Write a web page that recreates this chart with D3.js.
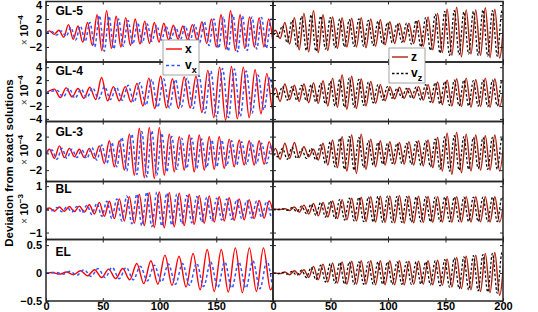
<!DOCTYPE html>
<html><head><meta charset="utf-8">
<script src="https://cdn.jsdelivr.net/npm/d3@7"></script>
<style>body{margin:0;background:#fff}svg{display:block}</style>
</head><body><svg id="c" width="538" height="312"></svg>
<script>
// ---------------- data (extrema, ×10^-n units) ----------------
const methods = ["GL-5", "GL-4", "GL-3", "BL", "EL"];
const timeTicks = [0, 50, 100, 150, 200];
const yTickValues = [[-2, 0, 2, 4], [-4, -2, 0, 2, 4], [-2, 0, 2], [-1, 0, 1], [-0.5, 0, 0.5]];
const yLimits = [[-4.15, 4.5], [-4.4, 4.8], [-3.35, 3.8], [-1.3, 1.2], [-0.5, 0.6]];
const exponents = ["-4", "-4", "-4", "-3", ""];

// time of first extremum and half period (time between extrema)
const leftHalfPeriod = [4.2, 5.2, 4.4, 4.4, 6.2];
const xFirstTime = [3, 7.4, 3, 3, 5.6];
const vxFirstTime = [5.1, 10, 5.2, 5.2, 8.7];
const rightHalfPeriod = 4.15;
const zFirstTime = 2;
const vzFirstTime = 4.1;

const gl5X = [0.3,-0.2,0.4,-0.6,1.2,-0.9,1.0,-1.3,1.5,-1.8, 2.6,-2.5,3.2,-2.2,2.4,-2.0,2.2,-1.8,2.0,-1.6, 1.7,-1.5,1.5,-1.3,1.4,-1.0,1.1,-0.9,1.0,-1.0, 1.2,-1.1,1.6,-1.5,2.0,-2.0,2.6,-2.3,3.2,-2.5, 2.6,-2.2,2.3,-2.0,2.2,-2.0,2.0,-1.9];
const gl5Vx = [0.2,-0.3,0.3,-0.5,0.8,-1.0,1.0,-1.2,1.5,-2.0, 2.5,-2.6,2.4,-2.3,2.0,-1.9,1.8,-1.6,1.5,-1.4, 1.3,-1.2,1.1,-1.0,0.9,-0.8,0.8,-0.9,1.0,-1.1, 1.2,-1.4,1.6,-1.8,2.0,-2.2,2.3,-2.6,2.6,-2.7, 2.4,-2.5,2.3,-2.3,2.2,-2.2,2.0,-2.0];
const gl4X = [0.6,-0.7,0.8,-0.6,0.7,-0.8,0.9,-1.0,2.4,-1.2, 1.0,-1.2,1.0,-1.4,1.5,-2.0,2.3,-2.4,2.6,-2.3, 2.2,-2.4,2.5,-2.3,2.6,-3.0,3.5,-3.8,4.0,-4.2, 4.1,-4.0,4.0,-3.8,3.6,-3.2,3.0,-2.6,2.4];
const gl4Vx = [0.4,-0.6,0.7,-0.8,0.6,-0.7,0.8,-0.9,1.0,-1.0, 0.9,-1.1,1.2,-1.4,1.6,-1.9,2.1,-2.2,2.2,-2.3, 2.1,-2.2,2.3,-2.4,2.7,-3.1,3.4,-3.7,3.8,-3.8, 3.7,-3.6,3.4,-3.1,2.8,-2.6,2.4,-2.2,2.0];
const gl3X = [0.5,-0.6,0.9,-0.5,0.6,-0.4,0.5,-0.5,0.6,-0.6, 0.9,-1.2,1.5,-1.6,1.5,-2.0,2.3,-2.6,3.0,-2.9, 3.1,-3.0,3.1,-2.6,2.3,-2.2,2.0,-2.0,2.2,-2.2, 2.2,-2.0,2.0,-1.9,2.0,-1.8,1.7,-1.6,1.6,-1.4, 1.5,-1.4,1.5,-1.3,1.4,-1.2];
const gl3Vx = [0.4,-0.7,0.6,-0.6,0.5,-0.5,0.4,-0.6,0.7,-0.8, 1.0,-1.2,1.3,-1.6,1.9,-2.1,2.3,-2.5,2.6,-2.8, 2.7,-2.6,2.4,-2.2,2.0,-1.9,1.8,-1.8,1.8,-1.8, 1.7,-1.7,1.6,-1.6,1.6,-1.5,1.5,-1.4,1.4,-1.3, 1.3,-1.2,1.2,-1.2,1.1,-1.0];
const blX = [0.06,-0.08,0.1,-0.08,0.12,-0.1,0.14,-0.12,0.2,-0.2, 0.3,-0.3,0.35,-0.4,0.45,-0.5,0.55,-0.6,0.65,-0.7, 0.72,-0.78,0.75,-0.8,0.72,-0.75,0.7,-0.7,0.65,-0.65, 0.6,-0.6,0.58,-0.55,0.55,-0.5,0.5,-0.48,0.45,-0.45, 0.42,-0.4,0.38,-0.38,0.36,-0.35];
const blVx = [-0.06,0.08,-0.1,0.1,-0.12,0.12,-0.15,0.18,-0.22,0.26, -0.3,0.35,-0.4,0.45,-0.5,0.58,-0.62,0.66,-0.7,0.74, -0.75,0.74,-0.72,0.7,-0.68,0.65,-0.62,0.6,-0.58,0.55, -0.55,0.52,-0.5,0.48,-0.46,0.45,-0.43,0.42,-0.4,0.38, -0.37,0.36,-0.35,0.34,-0.33,0.32];
const elX = [0.01,-0.02,0.02,-0.03,0.04,-0.05,0.06,-0.08,0.07,-0.1, 0.08,-0.12,0.17,-0.19,0.22,-0.2,0.32,-0.22,0.3,-0.25, 0.35,-0.3,0.42,-0.33,0.42,-0.34,0.45,-0.35,0.45,-0.33, 0.45,-0.3,0.3];
const elVx = [0.01,-0.02,0.03,-0.04,0.06,-0.06,0.08,-0.08,0.1,-0.1, 0.1,-0.12,0.12,-0.14,0.14,-0.16,0.16,-0.2,0.17,-0.22, 0.18,-0.24,0.2,-0.26,0.2,-0.27,0.2,-0.27,0.22,-0.28, 0.22,-0.28,0.22];

const gl5Z = [0.4,-0.8,1.5,-1.6,2.2,-2.4,2.8,-2.7,3.2,-2.8, 2.6,-2.5,2.3,-2.2,2.2,-2.0,2.1,-2.0,2.2,-2.1, 2.0,-1.9,1.9,-1.7,1.6,-1.5,1.4,-1.3,1.4,-1.5, 1.8,-1.9,2.3,-2.4,2.8,-2.8,3.4,-3.2,3.7,-3.4, 3.3,-3.0,3.3,-3.2,3.6,-3.5,3.4,-3.6,3.2];
const gl5Vz = [-0.5,1.0,-1.4,1.8,-2.0,2.4,-2.5,2.6,-2.6,2.4, -2.3,2.2,-2.1,2.0,-2.0,1.9,-1.9,2.0,-1.9,1.8, -1.8,1.7,-1.6,1.5,-1.4,1.3,-1.3,1.4,-1.6,1.8, -2.0,2.2,-2.5,2.7,-2.9,3.1,-3.2,3.2,-3.1,3.0, -3.0,3.1,-3.2,3.3,-3.3,3.2,-3.3,3.2,-3.0];
const gl4Z = [0.8,-1.3,1.4,-1.0,1.2,-1.3,1.4,-1.5,1.6,-1.6, 1.9,-2.0,2.3,-2.2,2.8,-2.5,2.6,-2.4,2.2,-2.0, 1.8,-1.6,1.3,-1.2,1.0,-0.9,0.9,-0.8,0.7,-0.8, 1.0,-1.1,1.3,-1.5,1.7,-1.8,2.0,-2.0,2.2,-2.1, 2.3,-2.2,2.1,-2.1,2.3,-2.2,2.2,-2.1,2.0];
const gl4Vz = [-0.6,1.0,-1.1,1.0,-1.1,1.2,-1.2,1.3,-1.4,1.5, -1.7,1.8,-2.0,2.1,-2.2,2.3,-2.2,2.1,-1.9,1.7, -1.5,1.3,-1.1,1.0,-0.8,0.7,-0.7,0.7,-0.8,0.9, -1.1,1.3,-1.4,1.6,-1.7,1.8,-1.9,2.0,-2.0,2.0, -2.0,1.9,-2.0,2.0,-2.1,2.0,-2.0,2.0,-2.0];
const gl3Z = [0.6,-0.7,1.2,-0.6,1.3,-0.5,0.8,-0.4,0.5,-0.8, 1.2,-1.4,1.6,-1.7,2.0,-2.1,2.2,-2.4,2.3,-1.9, 1.7,-1.6,1.5,-1.4,1.4,-1.3,1.3,-1.3,1.4,-1.4, 1.5,-1.5,1.6,-1.7,1.9,-2.1,2.4,-2.5,2.5,-2.3, 2.3,-2.1,2.2,-2.0,2.1,-2.0,2.2,-2.1,2.0];
const gl3Vz = [-0.4,0.6,-0.7,0.7,-0.6,0.5,-0.6,0.6,-0.8,1.0, -1.2,1.4,-1.6,1.8,-1.9,2.0,-2.0,1.9,-1.7,1.5, -1.4,1.3,-1.3,1.2,-1.2,1.2,-1.2,1.2,-1.3,1.4, -1.4,1.5,-1.6,1.7,-1.9,2.0,-2.1,2.1,-2.0,2.0, -1.9,1.9,-1.8,1.9,-1.9,1.9,-1.9,1.9,-1.9];
const blZ = [0.01,-0.01,0.03,-0.05,0.1,-0.12,0.18,-0.2,0.25,-0.28, 0.3,-0.33,0.36,-0.4,0.42,-0.45,0.48,-0.5,0.52,-0.53, 0.55,-0.55,0.57,-0.57,0.58,-0.58,0.6,-0.6,0.58,-0.58, 0.57,-0.57,0.56,-0.56,0.55,-0.55,0.56,-0.56,0.55,-0.55, 0.55,-0.55,0.54,-0.54,0.55,-0.55,0.54,-0.55,0.55];
const blVz = [-0.01,0.02,-0.04,0.07,-0.1,0.14,-0.18,0.22,-0.26,0.3, -0.33,0.36,-0.4,0.43,-0.46,0.48,-0.5,0.52,-0.53,0.54, -0.55,0.56,-0.56,0.57,-0.57,0.56,-0.56,0.55,-0.55,0.54, -0.54,0.54,-0.54,0.53,-0.53,0.53,-0.53,0.53,-0.53,0.53, -0.53,0.53,-0.53,0.53,-0.53,0.53,-0.53,0.53,-0.53];
const elZ = [0.0,-0.01,0.02,-0.03,0.04,-0.03,0.06,-0.08,0.12,-0.12, 0.16,-0.16,0.18,-0.18,0.2,-0.2,0.21,-0.2,0.22,-0.2, 0.22,-0.21,0.22,-0.21,0.22,-0.21,0.22,-0.21,0.21,-0.2, 0.21,-0.2,0.22,-0.21,0.23,-0.22,0.25,-0.25,0.28,-0.28, 0.3,-0.3,0.32,-0.33,0.35,-0.35,0.37,-0.4,0.38];
const elVz = [-0.01,0.01,-0.02,0.03,-0.04,0.05,-0.08,0.1,-0.12,0.14, -0.16,0.17,-0.18,0.19,-0.2,0.2,-0.2,0.2,-0.2,0.2, -0.2,0.2,-0.2,0.2,-0.2,0.2,-0.2,0.2,-0.2,0.2, -0.2,0.2,-0.21,0.22,-0.23,0.24,-0.25,0.27,-0.28,0.29, -0.3,0.31,-0.32,0.33,-0.34,0.35,-0.36,0.37,-0.37];

const xSeries = [gl5X, gl4X, gl3X, blX, elX];
const vxSeries = [gl5Vx, gl4Vx, gl3Vx, blVx, elVx];
const zSeries = [gl5Z, gl4Z, gl3Z, blZ, elZ];
const vzSeries = [gl5Vz, gl4Vz, gl3Vz, blVz, elVz];

// ---------------- layout ----------------
const FONT = '"Liberation Sans", Arial, Helvetica, sans-serif';
const svg = d3.select("#c");
const rowTop = [1.5, 62, 121.5, 181.5, 239.5];
const rowBot = [62, 121.5, 181.5, 239.5, 301];
const labelDy = [13.5, 13, 14.5, 11.5, 16.5];
const xLeft = d3.scaleLinear().domain([0, 200]).range([46, 273]);
const xRight = d3.scaleLinear().domain([0, 200]).range([273, 503]);
const AX = "#262626";

function toPoints(vals, t0, h) {
  return [[0, 0]].concat(vals.map((v, k) => [t0 + k * h, v]));
}

const fmt = d3.format("");

methods.forEach((name, i) => {
  const y = d3.scaleLinear().domain(yLimits[i]).range([rowBot[i], rowTop[i]]);
  [["L", xLeft], ["R", xRight]].forEach(([side, xs]) => {
    const x0 = xs.range()[0], x1 = xs.range()[1];
    const id = "clip" + side + i;
    svg.append("clipPath").attr("id", id).append("rect")
      .attr("x", x0).attr("y", rowTop[i]).attr("width", x1 - x0).attr("height", rowBot[i] - rowTop[i]);
    const line = d3.line().x(d => xs(d[0])).y(d => y(d[1])).curve(d3.curveMonotoneX);
    const g = svg.append("g").attr("clip-path", `url(#${id})`);
    if (side === "L") {
      g.append("path").attr("d", line(toPoints(xSeries[i], xFirstTime[i], leftHalfPeriod[i])))
        .attr("fill", "none").attr("stroke", "#ff0000").attr("stroke-width", 1.4);
      g.append("path").attr("d", line(toPoints(vxSeries[i], vxFirstTime[i], leftHalfPeriod[i])))
        .attr("fill", "none").attr("stroke", "#3355ff").attr("stroke-width", 1.5).attr("stroke-dasharray", "3,2.5");
    } else {
      g.append("path").attr("d", line(toPoints(zSeries[i], zFirstTime, rightHalfPeriod)))
        .attr("fill", "none").attr("stroke", "#b02010").attr("stroke-width", 1.4);
      g.append("path").attr("d", line(toPoints(vzSeries[i], vzFirstTime, rightHalfPeriod)))
        .attr("fill", "none").attr("stroke", "#111").attr("stroke-width", 1.3).attr("stroke-dasharray", "2.5,2");
    }
    // axes (inward ticks)
    const style = sel => {
      sel.select(".domain").remove();
      sel.selectAll("line").attr("stroke", AX);
      sel.attr("font-family", FONT).attr("font-size", 11).attr("font-weight", "bold");
      sel.selectAll("text").attr("fill", "#000");
    };
    svg.append("g").attr("transform", `translate(${x0},0)`)
      .call(d3.axisLeft(y).tickValues(yTickValues[i]).tickSize(-3).tickPadding(4)
        .tickFormat(side === "L" ? fmt : () => "")).call(style);
    svg.append("g").attr("transform", `translate(${x1},0)`)
      .call(d3.axisRight(y).tickValues(yTickValues[i]).tickSize(-3).tickFormat(() => "")).call(style);
    const last = i === methods.length - 1;
    svg.append("g").attr("transform", `translate(0,${rowBot[i]})`)
      .call(d3.axisBottom(xs).tickValues(timeTicks).tickSize(-3).tickPadding(1.5)
        .tickFormat(d => (!last || (side === "L" && d === 200)) ? "" : fmt(d))).call(style);
    svg.append("g").attr("transform", `translate(0,${rowTop[i]})`)
      .call(d3.axisTop(xs).tickValues(timeTicks).tickSize(-3).tickFormat(() => "")).call(style);
    svg.append("rect").attr("x", x0).attr("y", rowTop[i]).attr("width", x1 - x0).attr("height", rowBot[i] - rowTop[i])
      .attr("fill", "none").attr("stroke", AX).attr("stroke-width", 1.5);
  });
  // method label
  svg.append("text").attr("x", 55.5).attr("y", rowTop[i] + labelDy[i])
    .attr("font-family", FONT).attr("font-size", 12).attr("font-weight", "bold").text(name);
  // exponent label
  if (exponents[i]) {
    const cy = (rowTop[i] + rowBot[i]) / 2 - 1.5;
    const t = svg.append("text").attr("transform", `translate(28,${cy}) rotate(-90)`)
      .attr("text-anchor", "middle").attr("font-family", FONT).attr("fill", "#000");
    t.append("tspan").attr("font-size", 10).attr("fill", "#444").text("× ");
    t.append("tspan").attr("font-size", 11).attr("font-weight", "bold").text("10");
    t.append("tspan").attr("font-size", 8).attr("font-weight", "bold").attr("dy", -5)
      .text(exponents[i].replace("-", "−"));
  }
});

// y label
svg.append("text").attr("transform", "translate(12.5,163) rotate(-90)")
  .attr("text-anchor", "middle").attr("font-family", FONT).attr("font-size", 11.5).attr("font-weight", "bold")
  .text("Deviation from exact solutions");

// legends
function legend(x, y, entries) {
  const g = svg.append("g").attr("transform", `translate(${x},${y})`);
  g.append("rect").attr("width", 36).attr("height", 35).attr("fill", "#fff").attr("stroke", "#8c8c8c").attr("stroke-width", 0.8);
  entries.forEach((e, k) => {
    const ly = k === 0 ? 9 : 25.5;
    g.append("line").attr("x1", 3).attr("x2", 19).attr("y1", ly).attr("y2", ly)
      .attr("stroke", e.color).attr("stroke-width", e.w).attr("stroke-dasharray", e.dash || null);
    const t = g.append("text").attr("x", 22).attr("y", ly + (k === 0 ? 4 : 3))
      .attr("font-family", FONT).attr("font-size", 12).attr("font-weight", "bold");
    t.append("tspan").text(e.label);
    if (e.sub) t.append("tspan").attr("font-size", 9).attr("dy", 4).text(e.sub);
  });
}
legend(163, 40, [
  {label: "x", color: "#ff0000", w: 1.4},
  {label: "v", sub: "x", color: "#3355ff", w: 1.5, dash: "3,2.5"}
]);
legend(389, 48, [
  {label: "z", color: "#b02010", w: 1.4},
  {label: "v", sub: "z", color: "#111", w: 1.3, dash: "2.5,2"}
]);
</script></body></html>
